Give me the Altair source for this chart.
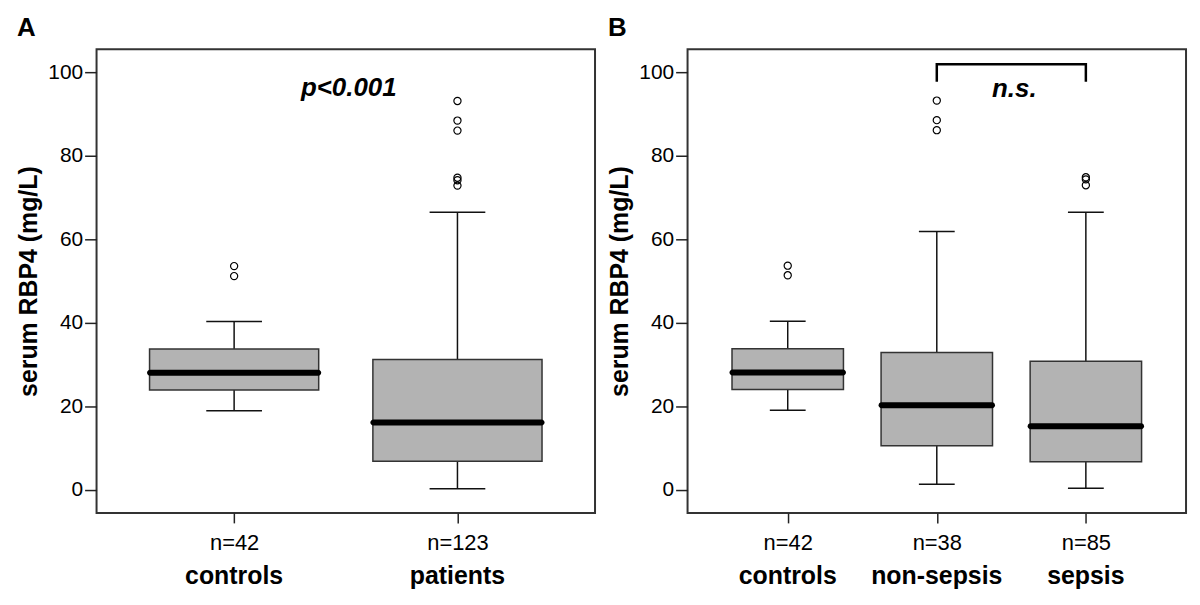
import altair as alt
import pandas as pd

FONT = "Liberation Sans"

# ---------------- Panel A data ----------------
A_groups = ["controls", "patients"]
A_counts = ["n=42", "n=123"]
A_lower = [18.9, 0.2]
A_q1 = [23.9, 6.8]
A_median = [28.0, 16.1]
A_q3 = [33.7, 31.2]
A_upper = [40.3, 66.5]
A_out_group = ["controls", "controls", "patients", "patients", "patients",
               "patients", "patients", "patients"]
A_out_value = [53.6, 51.2, 93.2, 88.5, 86.1, 74.8, 74.2, 72.9]
A_note = "p<0.001"
A_note_y = 94.4

# ---------------- Panel B data ----------------
B_groups = ["controls", "non-sepsis", "sepsis"]
B_counts = ["n=42", "n=38", "n=85"]
B_lower = [19.0, 1.3, 0.3]
B_q1 = [24.0, 10.5, 6.7]
B_median = [28.1, 20.2, 15.2]
B_q3 = [33.8, 32.9, 30.8]
B_upper = [40.4, 61.9, 66.5]
B_out_group = ["controls", "controls", "non-sepsis", "non-sepsis", "non-sepsis",
               "sepsis", "sepsis", "sepsis"]
B_out_value = [53.7, 51.4, 93.3, 88.6, 86.2, 74.9, 74.4, 73.0]
B_bracket_groups = ["non-sepsis", "non-sepsis", "sepsis", "sepsis"]
B_bracket_y = [97.8, 102.0, 102.0, 97.8]
B_note = "n.s."
B_note_y = 94.2

Y_DOMAIN = [-5.6, 105.6]
Y_TICKS = [0, 20, 40, 60, 80, 100]
W = 501
H = 466


def label_expr(groups, counts):
    expr = "''"
    for g, c in reversed(list(zip(groups, counts))):
        expr = f"datum.value === '{g}' ? '{c}' : ({expr})"
    return expr


def panel(groups, counts, lower, q1, med, q3, upper, og, ov,
          pad, box_w, cap_w):
    stats = pd.DataFrame(dict(group=groups, count=counts, lower=lower, q1=q1,
                              median=med, q3=q3, upper=upper))
    outs = pd.DataFrame(dict(group=og, value=ov))

    xs = alt.Scale(type="point", domain=groups, padding=pad)
    ys = alt.Scale(domain=Y_DOMAIN, nice=False, zero=False)
    xaxis = alt.Axis(title=None, labelExpr=label_expr(groups, counts),
                     labelAngle=0, labelFontSize=22, labelFont=FONT,
                     labelColor="#000", tickSize=10, tickColor="#222",
                     tickWidth=1.5, domain=False, labelPadding=10, grid=False)
    yaxis = alt.Axis(title="serum RBP4 (mg/L)", values=Y_TICKS, grid=False,
                     domain=False, tickSize=12, tickColor="#222", tickWidth=1.5,
                     labelFontSize=21, labelFont=FONT, labelColor="#000",
                     labelPadding=2, titleFontSize=25, titleFont=FONT,
                     titleFontWeight="bold", titleColor="#000", titlePadding=6)

    def X():
        return alt.X("group:N", scale=xs, axis=xaxis, sort=groups)

    def Y(f):
        return alt.Y(f"{f}:Q", scale=ys, axis=yaxis)

    base = alt.Chart(stats)
    whisk = base.mark_rule(color="#111", strokeWidth=1.5, opacity=1).encode(
        x=X(), y=Y("lower"), y2="upper:Q")
    cap_lo = base.mark_tick(color="#111", thickness=1.5, size=cap_w,
                            opacity=1).encode(x=X(), y=Y("lower"))
    cap_hi = base.mark_tick(color="#111", thickness=1.5, size=cap_w,
                            opacity=1).encode(x=X(), y=Y("upper"))
    box = base.mark_bar(size=box_w, fill="#b3b3b3", stroke="#333",
                        strokeWidth=1.5, opacity=1).encode(
        x=X(), y=Y("q1"), y2="q3:Q")
    medl = base.mark_tick(color="#000", thickness=6, size=box_w + 5,
                          cornerRadius=3, opacity=1).encode(
        x=X(), y=Y("median"))
    pts = alt.Chart(outs).mark_point(shape="circle", filled=False, color="#000",
                                     size=52, strokeWidth=1.2,
                                     opacity=1).encode(x=X(), y=Y("value"))
    names = base.mark_text(fontSize=25, fontWeight="bold", font=FONT,
                           baseline="alphabetic", color="#000").encode(
        x=X(), y=alt.value(H + 71), text="group:N")
    layers = [whisk, cap_lo, cap_hi, box, medl, pts, names]
    return layers, X, Y


A_layers, AX, AY = panel(A_groups, A_counts, A_lower, A_q1, A_median,
                         A_q3, A_upper, A_out_group, A_out_value,
                         0.616, 170, 56)
A_note_df = pd.DataFrame(dict(text=[A_note], y=[A_note_y]))
A_text = alt.Chart(A_note_df).mark_text(
    fontSize=26, fontWeight="bold", fontStyle="italic", font=FONT,
    baseline="alphabetic", color="#000").encode(
    x=alt.value(W / 2 + 3), y=AY("y"), text="text:N")
chartA = alt.layer(*A_layers, A_text).properties(
    width=W, height=H,
    title=alt.TitleParams("A", anchor="start", frame="bounds", fontSize=26,
                          fontWeight="bold", font=FONT, color="#000", offset=8))

B_pad = 0.672
B_layers, BX, BY = panel(B_groups, B_counts, B_lower, B_q1, B_median,
                         B_q3, B_upper, B_out_group, B_out_value,
                         B_pad, 112, 36)
br_df = pd.DataFrame(dict(group=B_bracket_groups, y=B_bracket_y,
                          order=list(range(len(B_bracket_y)))))
bracket = alt.Chart(br_df).mark_line(color="#000", strokeWidth=2.5,
                                     strokeCap="butt", opacity=1).encode(
    x=BX(), y=BY("y"), order="order:Q")
step = W / (len(B_groups) - 1 + 2 * B_pad)
B_note_df = pd.DataFrame(dict(group=[B_bracket_groups[0]], text=[B_note],
                              y=[B_note_y]))
B_text = alt.Chart(B_note_df).mark_text(
    fontSize=26, fontWeight="bold", fontStyle="italic", font=FONT,
    baseline="alphabetic", color="#000", dx=step / 2 + 3).encode(
    x=BX(), y=BY("y"), text="text:N")
chartB = alt.layer(*B_layers, bracket, B_text).properties(
    width=W, height=H,
    title=alt.TitleParams("B", anchor="start", frame="bounds", fontSize=26,
                          fontWeight="bold", font=FONT, color="#000", offset=8))

chart = alt.hconcat(chartA, chartB, spacing=10).properties(
    padding={"left": 7, "top": 5, "right": 5, "bottom": 5}
).configure_view(stroke="#333", strokeWidth=2)

chart.save("out.html", embed_options={"renderer": "svg", "actions": False})
